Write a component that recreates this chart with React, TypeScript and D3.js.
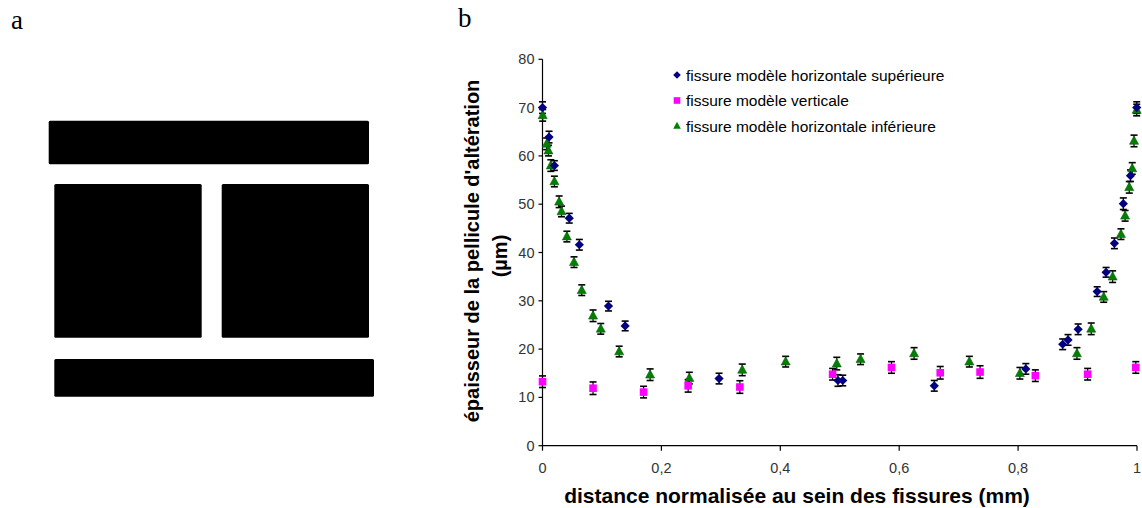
import React from "react";
import * as d3 from "d3";

// ---------- data ----------
const supX = [0, 0.011, 0.02, 0.045, 0.062, 0.111, 0.139, 0.297, 0.497, 0.505, 0.659, 0.813, 0.875, 0.884, 0.901, 0.933, 0.948, 0.962, 0.977, 0.989, 0.9995];
const supY = [70.0, 63.9, 58.0, 47.1, 41.6, 28.9, 24.8, 13.9, 13.5, 13.5, 12.4, 15.9, 21.0, 21.9, 24.1, 31.9, 35.9, 41.9, 50.1, 55.9, 70.0];
const supErr = [1.2, 1.2, 1.0, 1.0, 1.1, 1.0, 1.0, 1.1, 1.2, 1.1, 1.1, 1.1, 1.1, 1.1, 1.1, 1.0, 1.0, 1.1, 1.2, 1.2, 1.2];

const verX = [0, 0.085, 0.17, 0.245, 0.332, 0.488, 0.587, 0.669, 0.736, 0.829, 0.917, 0.998];
const verY = [13.25, 11.9, 11.1, 12.4, 12.15, 14.8, 16.2, 15.1, 15.25, 14.5, 14.8, 16.2];
const verErr = [1.2, 1.3, 1.2, 1.3, 1.3, 1.2, 1.2, 1.3, 1.3, 1.2, 1.2, 1.2];

const infX = [0.0003, 0.007, 0.01, 0.014, 0.02, 0.028, 0.032, 0.041, 0.053, 0.066, 0.085, 0.098, 0.129, 0.181, 0.247, 0.336, 0.409, 0.495, 0.535, 0.625, 0.718, 0.803, 0.899, 0.923, 0.944, 0.959, 0.973, 0.98, 0.987, 0.992, 0.995, 0.9995];
const infY = [68.4, 62.5, 61.1, 58.0, 54.7, 50.5, 48.5, 43.3, 38.0, 32.2, 26.9, 24.2, 19.5, 14.7, 14.0, 15.7, 17.4, 17.0, 17.9, 19.1, 17.4, 15.0, 19.1, 24.2, 30.8, 35.0, 43.8, 47.6, 53.5, 57.4, 63.1, 69.5];
const infErr = [1.2, 1.2, 1.1, 1.2, 1.1, 1.2, 1.1, 1.1, 1.1, 1.1, 1.2, 1.1, 1.1, 1.2, 1.2, 1.2, 1.1, 1.3, 1.1, 1.2, 1.1, 1.2, 1.2, 1.2, 1.1, 1.2, 1.1, 1.1, 1.2, 1.2, 1.2, 1.2];

const xTicks = [0, 0.2, 0.4, 0.6, 0.8, 1];
const yTicks = [0, 10, 20, 30, 40, 50, 60, 70, 80];

const seriesNames = [
  "fissure modèle horizontale supérieure",
  "fissure modèle verticale",
  "fissure modèle horizontale inférieure",
];
const xTitle = "distance normalisée au sein des fissures (mm)";
const yTitle1 = "épaisseur de la pellicule d'altération";
const yTitle2 = "(µm)";

const BLUE = "#000080";
const PINK = "#ff00ff";
const GREEN = "#008000";

const FONT = "'Liberation Sans', Arial, sans-serif";

function diamond(cx: number, cy: number, r: number) {
  return `M${cx},${cy - r}L${cx + r},${cy}L${cx},${cy + r}L${cx - r},${cy}Z`;
}
function triangle(cx: number, cy: number, r: number) {
  return `M${cx},${cy - r}L${cx + r},${cy + r * 0.85}L${cx - r},${cy + r * 0.85}Z`;
}

export default function App() {
  const x = d3.scaleLinear().domain([0, 1]).range([542.5, 1137]);
  const y = d3.scaleLinear().domain([0, 80]).range([445.7, 59.3]);

  const fmt = (v: number) => (v === 0 || v === 1 ? String(v) : String(v).replace(".", ","));

  const errBars = (xs: number[], ys: number[], es: number[], key: string) =>
    xs.map((xv, i) => {
      const cx = x(xv);
      const y1 = y(ys[i] + es[i]);
      const y2 = y(ys[i] - es[i]);
      return (
        <g key={key + i} stroke="#000" strokeWidth={1.2}>
          <line x1={cx} x2={cx} y1={y1} y2={y2} />
          <line x1={cx - 3.5} x2={cx + 3.5} y1={y1} y2={y1} strokeWidth={1.6} />
          <line x1={cx - 3.5} x2={cx + 3.5} y1={y2} y2={y2} strokeWidth={1.6} />
        </g>
      );
    });

  return (
    <svg
      width={1142}
      height={508}
      style={{ position: "absolute", left: 0, top: 0, background: "#fff" }}
      fontFamily={FONT}
    >
      <rect x={0} y={0} width={1142} height={508} fill="#fff" />
      {/* panel a */}
      <text x={11} y={29} fontFamily="'Liberation Serif', 'Times New Roman', serif" fontSize={27}>a</text>
      <rect x={48.7} y={120.7} width={320.3} height={43.6} fill="#000" rx={1.5} />
      <rect x={54.3} y={184} width={147.4} height={153.7} fill="#000" rx={1.5} />
      <rect x={221.7} y={184} width={147.3} height={153.7} fill="#000" rx={1.5} />
      <rect x={54.3} y={359} width={319.7} height={37.7} fill="#000" rx={1.5} />

      {/* panel b */}
      <text x={458} y={27} fontFamily="'Liberation Serif', 'Times New Roman', serif" fontSize={27}>b</text>

      {/* axes */}
      <line x1={x(0)} x2={x(0)} y1={y(80)} y2={y(0)} stroke="#000" strokeWidth={1.2} />
      <line x1={x(0)} x2={x(1)} y1={y(0)} y2={y(0)} stroke="#000" strokeWidth={1.2} />
      {yTicks.map((t) => (
        <g key={"yt" + t}>
          <line x1={x(0) - 4} x2={x(0)} y1={y(t)} y2={y(t)} stroke="#000" strokeWidth={1.2} />
          <text x={x(0) - 8} y={y(t) + 5} textAnchor="end" fontSize={14.5} fill="#333">
            {t}
          </text>
        </g>
      ))}
      {xTicks.map((t) => (
        <g key={"xt" + t}>
          <line x1={x(t)} x2={x(t)} y1={y(0)} y2={y(0) + 5} stroke="#000" strokeWidth={1.2} />
          <text x={x(t)} y={y(0) + 27} textAnchor="middle" fontSize={14.5} fill="#333">
            {fmt(t)}
          </text>
        </g>
      ))}

      {/* axis titles */}
      <text x={797} y={503} textAnchor="middle" fontSize={21} fontWeight="bold">
        {xTitle}
      </text>
      <text
        transform={`translate(479,251) rotate(-90)`}
        textAnchor="middle"
        fontSize={20}
        fontWeight="bold"
      >
        {yTitle1}
      </text>
      <text
        transform={`translate(507,256) rotate(-90)`}
        textAnchor="middle"
        fontSize={20}
        fontWeight="bold"
      >
        {yTitle2}
      </text>

      {/* error bars */}
      {errBars(verX, verY, verErr, "ev")}
      {errBars(infX, infY, infErr, "ei")}
      {errBars(supX, supY, supErr, "es")}

      {/* markers */}
      {verX.map((xv, i) => (
        <rect key={"v" + i} x={x(xv) - 3.8} y={y(verY[i]) - 3.8} width={7.6} height={7.6} fill={PINK} />
      ))}
      {infX.map((xv, i) => (
        <path key={"i" + i} d={triangle(x(xv), y(infY[i]) - 0.5, 4.5)} fill={GREEN} stroke="#0a5a0a" strokeWidth={0.6} />
      ))}
      {supX.map((xv, i) => (
        <path key={"s" + i} d={diamond(x(xv), y(supY[i]), 4.6)} fill={BLUE} />
      ))}

      {/* legend */}
      {seriesNames.map((name, i) => {
        const ly = 75 + i * 25.5;
        const mx = 677;
        return (
          <g key={"lg" + i}>
            {i === 0 && <path d={diamond(mx, ly, 3.8)} fill={BLUE} />}
            {i === 1 && <rect x={mx - 3.3} y={ly - 3.3} width={6.6} height={6.6} fill={PINK} />}
            {i === 2 && <path d={triangle(mx, ly - 0.5, 3.8)} fill={GREEN} />}
            <text x={686} y={ly + 5.5} fontSize={15.5} fill="#000">
              {name}
            </text>
          </g>
        );
      })}
    </svg>
  );
}
